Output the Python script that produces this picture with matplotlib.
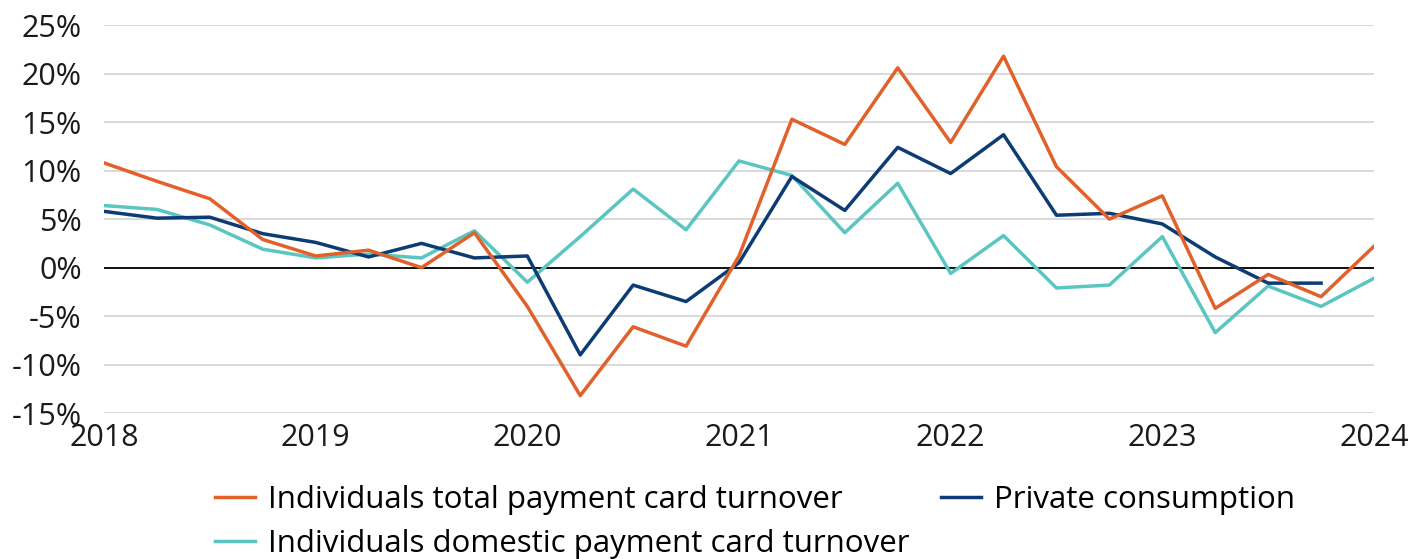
import matplotlib
matplotlib.use('Agg')
import matplotlib.pyplot as plt
import numpy as np

plt.rcParams['font.family'] = ['Open Sans', 'DejaVu Sans']

# quarterly, 2018Q1 .. 2024Q1
quarters = np.arange(2018, 2024.01, 0.25)

total_card = [10.8, 8.9, 7.1, 2.9, 1.2, 1.8, 0.0, 3.6, -4.0, -13.2, -6.1, -8.1, 1.2,
              15.3, 12.7, 20.6, 12.9, 21.8, 10.4, 5.0, 7.4, -4.2, -0.7, -3.0, 2.2]
domestic_card = [6.4, 6.0, 4.4, 1.9, 1.0, 1.4, 1.0, 3.8, -1.5, 3.2, 8.1, 3.9, 11.0,
                 9.5, 3.6, 8.7, -0.6, 3.3, -2.1, -1.8, 3.2, -6.7, -1.9, -4.0, -1.1]
private_cons = [5.8, 5.1, 5.2, 3.5, 2.6, 1.1, 2.5, 1.0, 1.2, -9.0, -1.8, -3.5, 0.5,
                9.4, 5.9, 12.4, 9.7, 13.7, 5.4, 5.6, 4.5, 1.1, -1.6, -1.6]

yticks = np.arange(-15, 26, 5)
xticks = np.arange(2018, 2025)

fig = plt.figure(figsize=(14.15, 5.59), dpi=100)
ax = fig.add_axes([0.0735, 0.261, 0.8975, 0.694])

c_orange = '#E1612B'
c_teal = '#5BC6C1'
c_navy = '#0C3C73'

l1, = ax.plot(quarters, total_card, color=c_orange, lw=2.5, zorder=4,
              label='Individuals total payment card turnover')
l3, = ax.plot(quarters[:len(private_cons)], private_cons, color=c_navy, lw=2.5, zorder=3,
              label='Private consumption')
l2, = ax.plot(quarters, domestic_card, color=c_teal, lw=2.5, zorder=2,
              label='Individuals domestic payment card turnover')

ax.axhline(0, color='black', lw=1.3, zorder=1)

ax.set_xlim(2018, 2024)
ax.set_ylim(-15, 25)
ax.set_yticks(yticks)
ax.set_yticklabels([f'{v}%' for v in yticks])
ax.set_xticks(xticks)
ax.set_xticklabels([str(x) for x in xticks])
ax.yaxis.grid(True, color='#d0d0d0', lw=1.1, zorder=0)
ax.set_axisbelow(True)
for s in ax.spines.values():
    s.set_visible(False)
ax.tick_params(axis='both', length=0, labelsize=22, colors='#1a1a1a')
ax.tick_params(axis='y', pad=16)
ax.tick_params(axis='x', pad=7)

fig.legend(handles=[l1, l2, l3], loc='upper left', bbox_to_anchor=(0.143, 0.155),
           ncol=2, frameon=False, fontsize=22.5, handlelength=1.28, handletextpad=0.42,
           columnspacing=1.0, labelspacing=0.45, borderaxespad=0)

fig.savefig('out.png', dpi=100)
